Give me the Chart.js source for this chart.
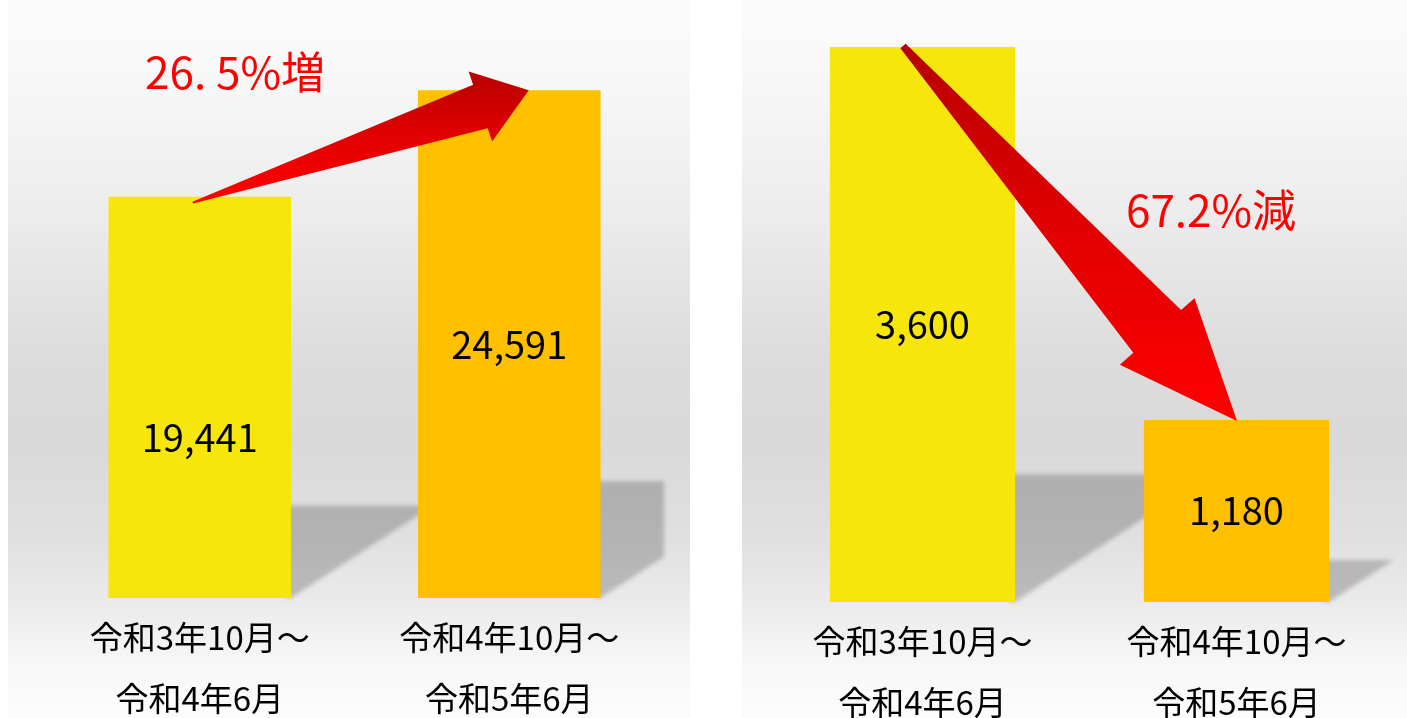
<!DOCTYPE html>
<html lang="ja">
<head>
<meta charset="utf-8">
<title>令和3年10月～令和5年6月 比較</title>
<script src="https://cdn.jsdelivr.net/npm/chart.js@4.4.0/dist/chart.umd.min.js"></script>
<style>
  html, body { margin: 0; padding: 0; background: #fff; overflow: hidden; width: 1407px; height: 718px; }
  .panel { position: absolute; top: 0; }
  #left { left: 8px; width: 682px; height: 738px; }
  #right { left: 742px; width: 665px; height: 742px; }
</style>
</head>
<body>
<div class="panel" id="left"><canvas id="leftChart"></canvas></div>
<div class="panel" id="right"><canvas id="rightChart"></canvas></div>
<script>
// Data
const periods = [['令和3年10月～', '令和4年6月'], ['令和4年10月～', '令和5年6月']];
const leftValues = [19441, 24591];
const rightValues = [3600, 1180];
const leftChange = '26. 5%増';
const rightChange = '67.2%減';
const barColors = ['#f6e60c', '#ffc000'];

const FONT = "'Noto Sans CJK JP', 'Noto Sans', sans-serif";

// Gray panel background
const panelBackground = {
  id: 'panelBackground',
  beforeDraw(chart) {
    const ctx = chart.ctx;
    const g = ctx.createLinearGradient(0, 0, 0, 718);
    g.addColorStop(0, '#fbfbfb');
    g.addColorStop(0.1, '#f8f8f8');
    g.addColorStop(0.3, '#ececec');
    g.addColorStop(0.5, '#dcdcdc');
    g.addColorStop(0.62, '#d9d9d9');
    g.addColorStop(0.75, '#e0e0e0');
    g.addColorStop(0.85, '#ececec');
    g.addColorStop(0.93, '#f8f8f8');
    g.addColorStop(1, '#fcfcfc');
    ctx.save();
    ctx.fillStyle = g;
    ctx.fillRect(0, 0, chart.width, chart.height);
    ctx.restore();
  }
};

// Slanted shadow behind each bar
const barShadow = {
  id: 'barShadow',
  beforeDatasetsDraw(chart) {
    const ctx = chart.ctx;
    const right = chart.chartArea.right;
    const slope = 0.65;
    chart.getDatasetMeta(0).data.forEach(bar => {
      const x1 = bar.x + bar.width / 2;
      const base = bar.base;
      const sh = (base - bar.y) * 0.23;
      const xr = Math.min(right, x1 + sh / slope);
      ctx.save();
      ctx.filter = 'blur(2px)';
      ctx.fillStyle = 'rgba(0,0,0,0.2)';
      ctx.beginPath();
      ctx.moveTo(x1 - 6, base);
      ctx.lineTo(x1, base);
      ctx.lineTo(xr, base - (xr - x1) * slope);
      ctx.lineTo(xr, base - sh);
      ctx.lineTo(x1 - 6, base - sh);
      ctx.closePath();
      ctx.fill();
      ctx.restore();
    });
  }
};

// Value labels inside bars
const valueLabels = {
  id: 'valueLabels',
  afterDatasetsDraw(chart, args, opts) {
    const ctx = chart.ctx;
    const values = chart.data.datasets[0].data;
    ctx.save();
    ctx.font = '38px ' + FONT;
    ctx.fillStyle = '#000';
    ctx.textAlign = 'center';
    ctx.textBaseline = 'middle';
    chart.getDatasetMeta(0).data.forEach((bar, i) => {
      const shift = (opts.shift && opts.shift[i]) || 0;
      ctx.fillText(values[i].toLocaleString('en-US'), bar.x, (bar.y + bar.base) / 2 + shift);
    });
    ctx.restore();
  }
};

// Big red arrow from first bar to second bar, plus change text
const changeArrow = {
  id: 'changeArrow',
  afterDraw(chart, args, o) {
    const ctx = chart.ctx;
    const bars = chart.getDatasetMeta(0).data;
    const tail = { x: bars[0].x + o.tailDx, y: bars[0].y + o.tailDy };
    const tip = { x: bars[1].x + o.tipDx, y: bars[1].y + o.tipDy };
    const dx = tip.x - tail.x, dy = tip.y - tail.y;
    const len = Math.hypot(dx, dy);
    const ux = dx / len, uy = dy / len;
    const nx = -uy, ny = ux;
    const at = (a, b) => [tip.x + ux * a + nx * b, tip.y + uy * a + ny * b];
    const pts = [
      [tail.x + nx * o.tailWidth, tail.y + ny * o.tailWidth],
      at(-o.headLength, o.shaftWidth),
      at(-o.headLength, o.headWidth),
      [tip.x, tip.y],
      at(-o.headLength, -o.headWidth),
      at(-o.headLength, -o.shaftWidth),
      [tail.x - nx * o.tailWidth, tail.y - ny * o.tailWidth]
    ];
    const ys = pts.map(p => p[1]);
    const g = ctx.createLinearGradient(0, Math.min(...ys), 0, Math.max(...ys));
    g.addColorStop(0, '#b80000');
    g.addColorStop(0.5, '#e20000');
    g.addColorStop(1, '#ff0000');
    ctx.save();
    ctx.fillStyle = g;
    ctx.beginPath();
    pts.forEach((p, i) => i ? ctx.lineTo(p[0], p[1]) : ctx.moveTo(p[0], p[1]));
    ctx.closePath();
    ctx.fill();

    ctx.font = '44px ' + FONT;
    ctx.fillStyle = '#ff0000';
    ctx.textAlign = 'center';
    ctx.textBaseline = 'middle';
    ctx.fillText(o.text, o.textX, o.textY);
    ctx.restore();
  }
};

function makeChart(id, values, opts) {
  return new Chart(document.getElementById(id), {
    type: 'bar',
    data: {
      labels: periods,
      datasets: [{
        data: values,
        backgroundColor: barColors,
        categoryPercentage: 0.59,
        barPercentage: 1
      }]
    },
    options: {
      responsive: true,
      maintainAspectRatio: false,
      animation: false,
      layout: { padding: opts.padding },
      scales: {
        x: {
          grid: { display: false, drawTicks: false },
          border: { display: false },
          ticks: {
            color: '#000',
            padding: 10,
            maxRotation: 0,
            autoSkip: false,
            font: { family: FONT, size: 33, lineHeight: 1.82 }
          }
        },
        y: { display: false, min: 0, max: opts.max }
      },
      plugins: {
        legend: { display: false },
        tooltip: { enabled: false },
        valueLabels: { shift: opts.shift },
        changeArrow: opts.arrow
      }
    },
    plugins: [panelBackground, barShadow, valueLabels, changeArrow]
  });
}

makeChart('leftChart', leftValues, {
  padding: { top: 20, left: 37, right: 26, bottom: 0 },
  max: 28000,
  shift: [40, 0],
  arrow: {
    tailDx: -7, tailDy: 6, tipDx: 19.5, tipDy: 0,
    headLength: 51, headWidth: 37, shaftWidth: 23, tailWidth: 1,
    text: leftChange, textX: 227, textY: 72
  }
});

makeChart('rightChart', rightValues, {
  padding: { top: 47, left: 23.5, right: 13.5, bottom: 0 },
  max: 3600,
  shift: [0, 0],
  arrow: {
    tailDx: -19.5, tailDy: -1, tipDx: 0.5, tipDy: 1,
    headLength: 120, headWidth: 50, shaftWidth: 32, tailWidth: 3.5,
    text: rightChange, textX: 469, textY: 210
  }
});
</script>
</body>
</html>
